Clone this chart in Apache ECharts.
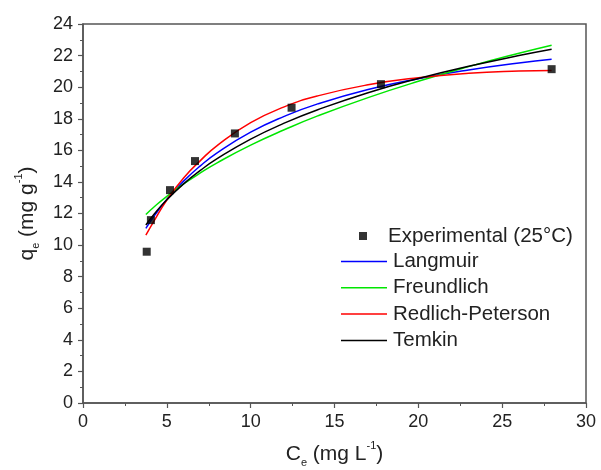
<!DOCTYPE html>
<html>
<head>
<meta charset="utf-8">
<script src="https://cdn.jsdelivr.net/npm/echarts@6/dist/echarts.min.js"></script>
<style>html,body{margin:0;padding:0;background:#fff}#c{width:601px;height:470px}</style>
</head>
<body>
<div id="c"></div>
<script>
// Experimental data
var expX = [3.8, 4.05, 5.19, 6.68, 9.06, 12.44, 17.77, 27.95];
var expY = [9.58, 11.58, 13.48, 15.32, 17.07, 18.70, 20.19, 21.14];
// Fitted curves
var fitX = [3.75, 4.25, 5, 6, 7, 8, 10, 12, 14, 17, 20, 23, 26, 27.95];
var langY = [11.06, 11.85, 12.89, 14.05, 15.02, 15.84, 17.15, 18.15, 18.94, 19.85, 20.54, 21.09, 21.53, 21.77];
var freuY = [11.94, 12.43, 13.09, 13.87, 14.57, 15.21, 16.33, 17.30, 18.18, 19.34, 20.37, 21.30, 22.15, 22.66];
var rpY   = [10.63, 11.55, 12.85, 14.25, 15.35, 16.30, 17.75, 18.75, 19.45, 20.15, 20.60, 20.88, 21.02, 21.06];
var temY  = [11.27, 11.97, 12.87, 13.88, 14.73, 15.47, 16.71, 17.72, 18.57, 19.65, 20.55, 21.32, 22.00, 22.40];
var names = ['Experimental (25°C)', 'Langmuir', 'Freundlich', 'Redlich-Peterson', 'Temkin'];
var xTicks = {min: 0, max: 30, interval: 5};
var yTicks = {min: 0, max: 24, interval: 2};

function pairs(xs, ys) { return xs.map(function (x, i) { return [x, ys[i]]; }); }

var FONT = 'Liberation Sans, Arial, sans-serif';
var chart = echarts.init(document.getElementById('c'), null, {renderer: 'canvas'});
var axisCommon = {
  axisLine: {show: true, onZero: false, lineStyle: {color: '#555', width: 1.5}},
  axisTick: {show: true, inside: false, length: 5, lineStyle: {color: '#555', width: 1.2}},
  minorTick: {show: true, splitNumber: 2, length: 3, lineStyle: {color: '#555', width: 1}},
  splitLine: {show: false},
  axisLabel: {color: '#222', fontSize: 18, fontFamily: FONT},
  nameTextStyle: {color: '#222', fontFamily: FONT}
};
var titleRich = {
  m: {fontSize: 21, fontFamily: FONT, color: '#222', lineHeight: 28, verticalAlign: 'middle'},
  s: {fontSize: 11, fontFamily: FONT, color: '#222', verticalAlign: 'bottom', lineHeight: 11},
  p: {fontSize: 11, fontFamily: FONT, color: '#222', verticalAlign: 'top', lineHeight: 15}
};
function lineSeries(name, ys, color) {
  return {
    name: name, type: 'line', data: pairs(fitX, ys), smooth: true,
    symbol: 'none', lineStyle: {color: color, width: 1.5}, itemStyle: {color: color}, z: 2
  };
}
var lineIcon = 'path://M0,0 L100,0 L100,3.2 L0,3.2 Z';
chart.setOption({
  backgroundColor: '#fff',
  animation: false,
  grid: {left: 83, right: 15, top: 24, bottom: 67, show: true, borderColor: '#555', borderWidth: 1.5, outerBoundsMode: 'none'},
  xAxis: Object.assign({}, axisCommon, {
    type: 'value', min: xTicks.min, max: xTicks.max, interval: xTicks.interval,
    axisLabel: Object.assign({}, axisCommon.axisLabel, {margin: 10}),
    name: '{m|C}{s|e}{m| (mg L}{p|-1}{m|)}', nameLocation: 'middle', nameGap: 37,
    nameTextStyle: {color: '#222', fontFamily: FONT, rich: titleRich}
  }),
  yAxis: Object.assign({}, axisCommon, {
    type: 'value', min: yTicks.min, max: yTicks.max, interval: yTicks.interval,
    axisLabel: Object.assign({}, axisCommon.axisLabel, {margin: 10}),
    name: '{m|q}{s|e}{m| (mg g}{p|-1}{m|)}', nameLocation: 'middle', nameGap: 42,
    nameTextStyle: {color: '#222', fontFamily: FONT, rich: titleRich}
  }),
  legend: [
    {data: [names[0]], orient: 'vertical', left: 359, top: 225.5, padding: 0,
     itemWidth: 8, itemHeight: 8, itemGap: 0,
     textStyle: {fontSize: 20.5, fontFamily: FONT, color: '#222', padding: [0, 0, 0, 16]}},
    {data: names.slice(1).map(function (n) { return {name: n, icon: lineIcon}; }),
     orient: 'vertical', left: 341, top: 251, padding: 0,
     itemWidth: 46, itemHeight: 14, itemGap: 5.3, symbolKeepAspect: true,
     textStyle: {fontSize: 20.5, fontFamily: FONT, color: '#222', padding: [0, 0, 0, 1]}}
  ],
  series: [
    {name: names[0], type: 'scatter', data: pairs(expX, expY), symbol: 'rect', symbolSize: 8,
     itemStyle: {color: '#000'}, z: 5},
    lineSeries(names[1], langY, '#0000ff'),
    lineSeries(names[2], freuY, '#00e600'),
    lineSeries(names[3], rpY, '#ff0000'),
    lineSeries(names[4], temY, '#000000')
  ]
});
</script>
</body>
</html>
